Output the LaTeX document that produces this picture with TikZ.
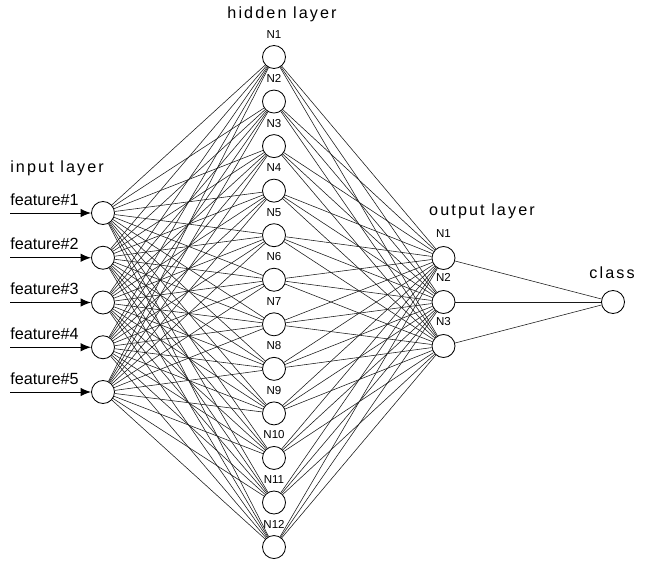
\documentclass[tikz,border=0pt]{standalone}
\usepackage{fontspec}
\setmainfont{Liberation Sans}
\usepackage{tikz}
\usetikzlibrary{arrows.meta}
\usetikzlibrary{positioning}
\tikzstyle{input} = [coordinate]
\tikzstyle{neuron} = [draw, circle, minimum size=0.575cm, inner sep=0pt, line width=0.6pt]
\tikzstyle{link} = [draw, line width=0.4pt, black!90]
\tikzstyle{nlabel} = [font=\fontsize{8.2}{10}\selectfont, anchor=base, inner sep=0pt]
\tikzstyle{feat} = [font=\fontsize{11.5}{14}\selectfont, anchor=base west, inner sep=0pt]
\tikzstyle{layer} = [font=\fontsize{11.5}{14}\selectfont\addfontfeature{LetterSpace=13}, anchor=base, inner sep=0pt]

\begin{document}
\begin{tikzpicture}[x=0.025cm, y=-0.025cm, >={Latex[length=7.5pt,width=6pt]}]
  \useasboundingbox (0,0) rectangle (646,562);
  % neurons
  \foreach \i in {1,...,5}
    \node [neuron] (I\i) at (103, {213+44.75*(\i-1)}) {};
  \foreach \i in {1,...,12}
    \node [neuron] (H\i) at (274, {57+44.55*(\i-1)}) {};
  \foreach \i in {1,2,3}
    \node [neuron] (O\i) at (443.5, {258+44*(\i-1)}) {};
  \node [neuron] (class) at (613,302) {};
  % connections
  \foreach \i in {1,...,5}
    \foreach \j in {1,...,12}
      \draw [link] (I\i) -- (H\j);
  \foreach \j in {1,...,12}
    \foreach \k in {1,2,3}
      \draw [link] (H\j) -- (O\k);
  \foreach \k in {1,2,3}
    \draw [link] (O\k) -- (class);
  % inputs
  \foreach \i in {1,...,5} {
    \node [input, name=F\i] at (10, {213+44.75*(\i-1)}) {};
    \node [feat] (FL\i) at (10, {205+44.75*(\i-1)}) {feature\#\i};
    \draw [->, line width=0.7pt] (F\i) -- (I\i);
  }
  % neuron labels
  \foreach \i in {1,...,12}
    \node [nlabel] (HL\i) at (274, {38+44.55*(\i-1)}) {N\i};
  \foreach \i in {1,2,3}
    \node [nlabel] (OL\i) at (443.5, {237+44*(\i-1)}) {N\i};
  % layer titles
  \node [layer, anchor=base west] (inlayer) at (10,172) {input layer};
  \node [layer] (hidlayer) at (282,18) {hidden layer};
  \node [layer] (outlayer) at (482,215) {output layer};
  \node [layer] (classlabel) at (612,278) {class};
\end{tikzpicture}
\end{document}
